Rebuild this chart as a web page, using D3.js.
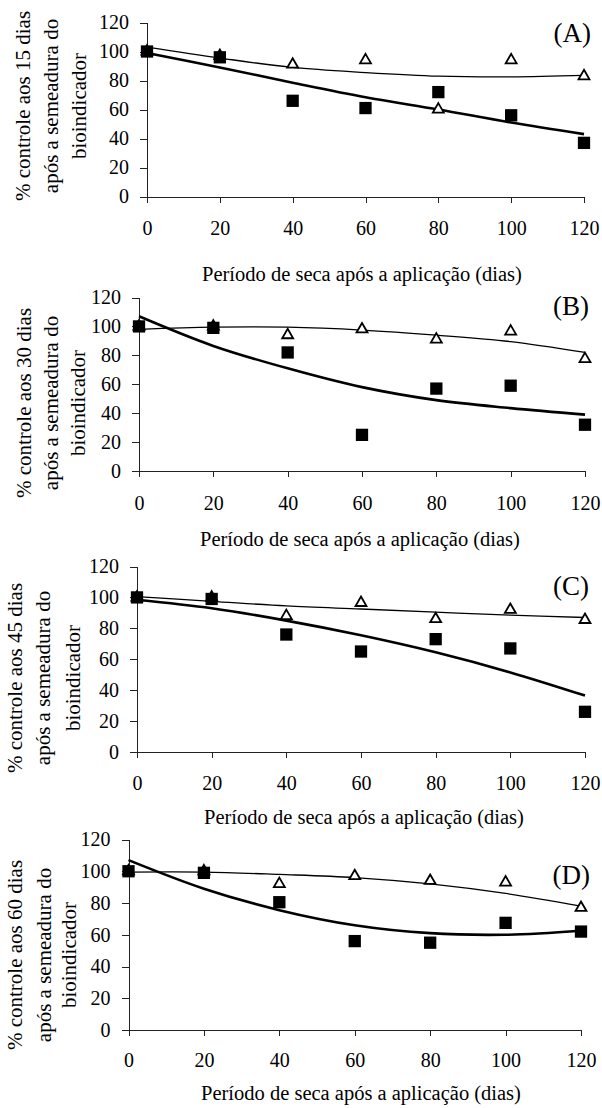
<!DOCTYPE html>
<html>
<head>
<meta charset="utf-8">
<script src="https://cdn.jsdelivr.net/npm/d3@7"></script>
<style>
  body { margin: 0; background: #fff; }
  text { font-family: "Liberation Serif", "Times New Roman", serif; fill: #000; }
</style>
</head>
<body>
<div id="panel"></div>
<script>
// dias apos a aplicacao
var dias = [0, 20, 40, 60, 80, 100, 120];
var yTicks = [0, 20, 40, 60, 80, 100, 120];

// quadrados (serie preta) e triangulos (serie branca)
var quadA = [100, 96, 66, 61, 72, 56, 37];
var triA  = [100, 97, 91, 94, 60, 94, 83];
var quadB = [100, 99, 82, 25, 57, 59, 32];
var triB  = [100, 100, 94, 98, 91, 96.5, 77.5];
var quadC = [100, 99, 76, 65, 73, 67, 26];
var triC  = [100, 100, 88, 96.5, 86, 92, 85.5];
var quadD = [100, 99, 80.5, 56, 55, 67.5, 62];
var triD  = [100, 100, 92, 97, 94, 93, 77];

// curvas ajustadas
var ajQuadA = [99, 89, 78.5, 68.5, 60, 51, 43];
var ajTriA  = [103, 95.5, 89, 85.5, 83, 82.5, 83.5];
var ajQuadB = [107, 86.5, 71, 58, 49, 43.5, 39];
var ajTriB  = [98, 99.5, 99.5, 97.5, 94, 89.5, 82];
var ajQuadC = [98.5, 93, 85, 75.5, 64.5, 51.5, 36.5];
var ajTriC  = [100.5, 97.5, 94.5, 92.5, 90.5, 88.5, 87];
var ajQuadD = [107, 89, 75.5, 66, 61, 60, 62.5];
var ajTriD  = [99.5, 99.5, 98, 96, 92, 86, 78];

var letras = ['(A)', '(B)', '(C)', '(D)'];
var yTitulos = [
  ['% controle aos 15 dias', 'após a semeadura do', 'bioindicador'],
  ['% controle aos 30  dias', 'após a semeadura do', 'bioindicador'],
  ['% controle aos 45 dias', 'após a semeadura do', 'bioindicador'],
  ['% controle aos 60 dias', 'após a semeadura do', 'bioindicador']
];
var xTitulo = 'Período de seca após a aplicação (dias)';

var w = 602;
var h = 1108;
var svg = d3.select('#panel').append('svg').attr('width', w).attr('height', h);

// posicao de cada grafico na pagina
var layout = [
  { x0: 147, x1: 584, y0: 196.5, y1: 22.5, tickY: 235, titY: 281, titX: 362, letX: 591, letY: 42,
    yLines: [25, 53.5, 81], yMid: 106 },
  { x0: 139, x1: 585, y0: 471, y1: 297.5, tickY: 510, titY: 546, titX: 360, letX: 589, letY: 315,
    yLines: [26, 53, 80], yMid: 403 },
  { x0: 137, x1: 585, y0: 752, y1: 566.5, tickY: 790, titY: 824, titX: 364, letX: 589, letY: 595,
    yLines: [17.5, 45.5, 75], yMid: 678 },
  { x0: 128.5, x1: 581, y0: 1030, y1: 839.5, tickY: 1067, titY: 1100, titX: 361, letX: 590, letY: 884,
    yLines: [17.5, 46, 71.5], yMid: 955 }
];

var series = [
  { quad: quadA, tri: triA, ajQuad: ajQuadA, ajTri: ajTriA },
  { quad: quadB, tri: triB, ajQuad: ajQuadB, ajTri: ajTriB },
  { quad: quadC, tri: triC, ajQuad: ajQuadC, ajTri: ajTriC },
  { quad: quadD, tri: triD, ajQuad: ajQuadD, ajTri: ajTriD }
];

function pares(vals) {
  return dias.map(function (d, i) { return { x: d, y: vals[i] }; });
}

series.forEach(function (s, k) {
  var L = layout[k];
  var x = d3.scaleLinear().domain([0, 120]).range([L.x0, L.x1]);
  var y = d3.scaleLinear().domain([0, 120]).range([L.y0, L.y1]);
  var g = svg.append('g');

  // eixo y
  var ay = g.append('g')
    .attr('transform', 'translate(' + L.x0 + ',0)')
    .call(d3.axisLeft(y).tickValues(yTicks).tickSize(7).tickSizeOuter(0).tickPadding(11));
  ay.selectAll('text').attr('font-size', '20px').attr('font-family', '"Liberation Serif", serif');

  // eixo x
  var ax = g.append('g')
    .attr('transform', 'translate(0,' + L.y0 + ')')
    .call(d3.axisBottom(x).tickValues(dias).tickSize(6).tickSizeOuter(0));
  ax.selectAll('text')
    .attr('font-size', '20px')
    .attr('font-family', '"Liberation Serif", serif')
    .attr('y', L.tickY - L.y0)
    .attr('dy', null);

  g.selectAll('.domain, .tick line').attr('stroke', '#222').attr('shape-rendering', 'crispEdges');

  // curvas ajustadas
  var line = d3.line()
    .x(function (d) { return x(d.x); })
    .y(function (d) { return y(d.y); })
    .curve(d3.curveCatmullRom.alpha(0.5));

  g.append('path').datum(pares(s.ajTri))
    .attr('d', line).attr('fill', 'none').attr('stroke', '#000').attr('stroke-width', 1.3);
  g.append('path').datum(pares(s.ajQuad))
    .attr('d', line).attr('fill', 'none').attr('stroke', '#000').attr('stroke-width', 2.6);

  // triangulos
  g.selectAll('.tri').data(pares(s.tri)).enter().append('path')
    .attr('class', 'tri')
    .attr('d', d3.symbol().type(d3.symbolTriangle).size(52))
    .attr('transform', function (d) { return 'translate(' + x(d.x) + ',' + y(d.y) + ')'; })
    .attr('fill', '#fff').attr('stroke', '#000').attr('stroke-width', 1.8);

  // quadrados
  g.selectAll('.quad').data(pares(s.quad)).enter().append('path')
    .attr('class', 'quad')
    .attr('d', d3.symbol().type(d3.symbolSquare).size(151))
    .attr('transform', function (d) { return 'translate(' + x(d.x) + ',' + y(d.y) + ')'; })
    .attr('fill', '#000');

  // letra do painel
  g.append('text')
    .attr('x', L.letX).attr('y', L.letY)
    .attr('text-anchor', 'end').attr('font-size', '27px')
    .text(letras[k]);

  // titulo x
  g.append('text')
    .attr('x', L.titX).attr('y', L.titY)
    .attr('text-anchor', 'middle').attr('font-size', '20.5px')
    .text(xTitulo);

  // titulo y (tres linhas)
  yTitulos[k].forEach(function (t, j) {
    g.append('text')
      .attr('transform', 'translate(' + L.yLines[j] + ',' + L.yMid + ') rotate(-90)')
      .attr('text-anchor', 'middle')
      .attr('dominant-baseline', 'middle')
      .attr('font-size', '21px')
      .text(t);
  });
});
</script>
</body>
</html>
